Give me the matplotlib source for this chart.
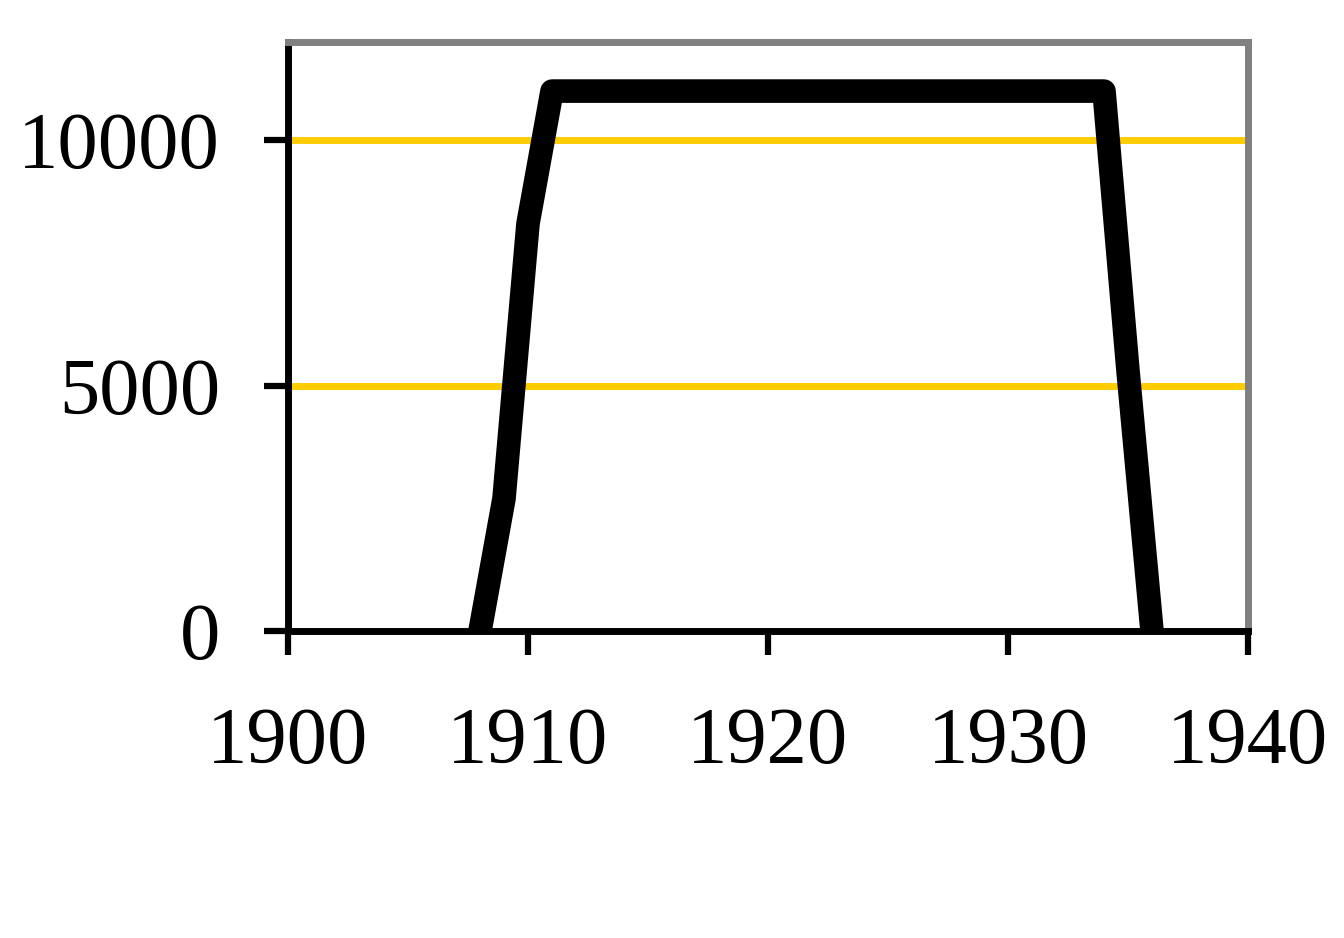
import matplotlib.pyplot as plt

anios = [1908, 1909, 1910, 1911, 1934, 1935, 1936]
valores = [0, 2700, 8300, 11000, 11000, 5300, 0]
xticks = [1900, 1910, 1920, 1930, 1940]
yticks = [0, 5000, 10000]

plt.rcParams['font.family'] = ['Liberation Serif', 'DejaVu Serif']

fig = plt.figure(figsize=(13.44, 9.38), dpi=100)
ax = fig.add_axes([288 / 1344, 1 - 631 / 938, 960 / 1344, 589 / 938])

ax.plot(anios, valores, color='black', linewidth=17,
        solid_capstyle='round', solid_joinstyle='round', zorder=3)

ax.set_xlim(1900, 1940)
ax.set_ylim(0, 12000)
ax.set_xticks(xticks)
ax.set_yticks(yticks)
ax.yaxis.grid(True, color='#FFCC00', linewidth=5)
ax.set_axisbelow(True)

for lado in ['left', 'bottom']:
    ax.spines[lado].set_color('black')
    ax.spines[lado].set_linewidth(5)
for lado in ['top', 'right']:
    ax.spines[lado].set_color('#808080')
    ax.spines[lado].set_linewidth(5)

ax.tick_params(axis='both', direction='out', length=17, width=4.5, color='black',
               labelsize=58)
ax.tick_params(axis='y', pad=32)
ax.tick_params(axis='x', pad=38)

fig.savefig('out.png', dpi=100, facecolor='white')
